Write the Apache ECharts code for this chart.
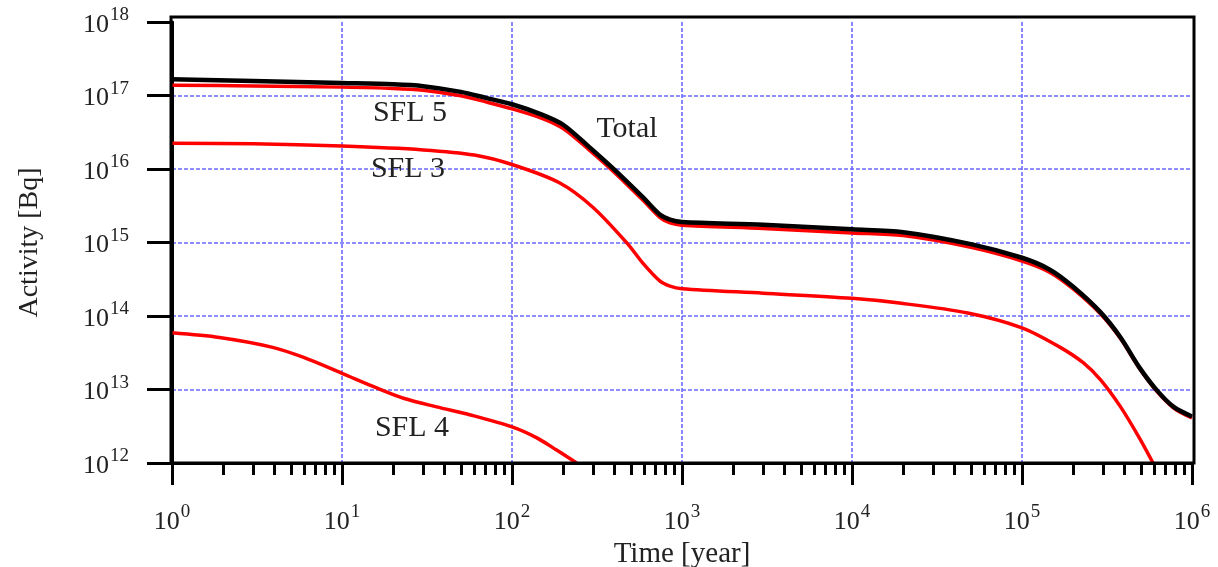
<!DOCTYPE html>
<html>
<head>
<meta charset="utf-8">
<script src="https://cdn.jsdelivr.net/npm/echarts@6/dist/echarts.min.js"></script>
<style>
  html, body { margin: 0; padding: 0; background: #fff; }
  #chart { width: 1218px; height: 567px; }
</style>
</head>
<body>
<div id="chart"></div>
<script>
// time [year] and activity [Bq]
var totalTime = [1, 3, 10, 20, 30, 50, 70, 100, 150, 200, 284, 400, 590, 740, 850, 1000, 3000, 1e4, 2e4, 5e4, 1e5, 1.45e5, 2e5, 2.9e5, 3.8e5, 4.9e5, 6.2e5, 7.8e5, 1e6]
var totalAct = [1.66e17, 1.58e17, 1.48e17, 1.42e17, 1.34e17, 1.12e17, 9.3e16, 7.6e16, 5.5e16, 4.0e16, 2.0e16, 9.8e15, 4.1e15, 2.4e15, 2.05e15, 1.9e15, 1.74e15, 1.51e15, 1.38e15, 9.5e14, 6.2e14, 4.3e14, 2.5e14, 1.12e14, 5.1e13, 2.0e13, 9.8e12, 5.8e12, 4.3e12]

var sfl5Time = totalTime
var sfl5Act = [1.38e17, 1.35e17, 1.3e17, 1.25e17, 1.18e17, 9.9e16, 8.2e16, 6.6e16, 4.9e16, 3.55e16, 1.82e16, 9.0e15, 3.75e15, 2.2e15, 1.85e15, 1.72e15, 1.55e15, 1.35e15, 1.24e15, 8.6e14, 5.6e14, 3.95e14, 2.33e14, 1.06e14, 4.9e13, 1.95e13, 9.5e12, 5.6e12, 4.1e12]

var sfl3Time = [1, 3, 10, 30, 60, 100, 190, 300, 475, 590, 740, 850, 1000, 3000, 1e4, 1.9e4, 4.8e4, 1e5, 1.66e5, 2.3e5, 2.9e5, 3.8e5, 4.9e5, 5.9e5]
var sfl3Act = [2.24e16, 2.2e16, 2.05e16, 1.82e16, 1.55e16, 1.15e16, 6.5e15, 3.0e15, 9.8e14, 5.2e14, 3.0e14, 2.55e14, 2.35e14, 2.04e14, 1.74e14, 1.5e14, 1.1e14, 6.9e13, 3.8e13, 2.3e13, 1.35e13, 5.8e12, 2.2e12, 1e12]

var sfl4Time = [1, 1.9, 3.8, 5.9, 10, 16, 23, 36, 57, 100, 140, 183, 240]
var sfl4Act = [5.9e13, 5.1e13, 3.8e13, 2.75e13, 1.66e13, 1.05e13, 7.6e12, 5.8e12, 4.5e12, 3.1e12, 2.2e12, 1.5e12, 1e12]

var curveNames = ['SFL 5', 'Total', 'SFL 3', 'SFL 4']
// minor ticks of the time axis: 2..9 times each decade
var minorMult = [2, 3, 4, 5, 6, 7, 8, 9]
var decades = [0, 1, 2, 3, 4, 5]

var SERIF = '"Liberation Serif", "Times New Roman", serif'

function pairs(xs, ys) {
  return xs.map(function (x, i) { return [x, ys[i]] })
}

var minorTicks = []
decades.forEach(function (d) {
  minorMult.forEach(function (m) { minorTicks.push(d + Math.log10(m)) })
})

function powLabel(v) {
  var e = Math.round(Math.log10(v))
  return '{b|10}{s|' + e + '}'
}

var labelRich = {
  b: { fontFamily: SERIF, fontSize: 26, lineHeight: 32, verticalAlign: 'bottom', color: '#222' },
  s: { fontFamily: SERIF, fontSize: 19, lineHeight: 19, verticalAlign: 'top', color: '#222', padding: [0, 0, 0, 1] }
}

var gridLine = { show: true, showMinLine: false, showMaxLine: false, lineStyle: { color: '#6a6aff', width: 1.6, type: [4, 2] } }

var lineBase = { type: 'line', smooth: 0.3, showSymbol: false }

var chart = echarts.init(document.getElementById('chart'))

chart.setOption({
  animation: false,
  grid: { left: 172, right: 26, top: 22, bottom: 104, outerBoundsMode: 'none' },
  xAxis: [{
    type: 'log',
    logBase: 10,
    min: 1,
    max: 1e6,
    name: 'Time [year]',
    nameLocation: 'middle',
    nameGap: 67,
    nameTextStyle: { fontFamily: SERIF, fontSize: 29, color: '#222' },
    axisLine: { lineStyle: { color: '#000', width: 3 } },
    axisTick: { length: 22, lineStyle: { color: '#000', width: 3 } },
    axisLabel: { margin: 40, formatter: powLabel, rich: labelRich },
    splitLine: gridLine
  }, {
    // only carries the minor ticks
    type: 'value',
    min: 0,
    max: 6,
    position: 'bottom',
    axisLine: { show: false },
    axisLabel: { show: false },
    splitLine: { show: false },
    axisTick: { customValues: minorTicks, length: 12, lineStyle: { color: '#000', width: 3 } }
  }],
  yAxis: {
    type: 'log',
    logBase: 10,
    min: 1e12,
    max: 1e18,
    name: 'Activity [Bq]',
    nameLocation: 'middle',
    nameGap: 128,
    nameTextStyle: { fontFamily: SERIF, fontSize: 28, color: '#222' },
    axisLine: { lineStyle: { color: '#000', width: 3 } },
    axisTick: { length: 25, lineStyle: { color: '#000', width: 3 } },
    axisLabel: { margin: 43, formatter: powLabel, rich: labelRich },
    splitLine: gridLine
  },
  graphic: [
    { type: 'rect', z: 100, silent: true, shape: { x: 171, y: 17, width: 1023, height: 446 },
      style: { fill: 'none', stroke: '#000', lineWidth: 3 } },
    { type: 'text', z: 100, x: 410, y: 113, style: { text: curveNames[0], font: '30px ' + SERIF, fill: '#222', align: 'center', verticalAlign: 'middle' } },
    { type: 'text', z: 100, x: 627, y: 129, style: { text: curveNames[1], font: '30px ' + SERIF, fill: '#222', align: 'center', verticalAlign: 'middle' } },
    { type: 'text', z: 100, x: 408, y: 169, style: { text: curveNames[2], font: '30px ' + SERIF, fill: '#222', align: 'center', verticalAlign: 'middle' } },
    { type: 'text', z: 100, x: 412, y: 428, style: { text: curveNames[3], font: '30px ' + SERIF, fill: '#222', align: 'center', verticalAlign: 'middle' } }
  ],
  series: [
    Object.assign({}, lineBase, { name: curveNames[2], lineStyle: { color: '#ff0000', width: 3.5 }, data: pairs(sfl3Time, sfl3Act) }),
    Object.assign({}, lineBase, { name: curveNames[3], lineStyle: { color: '#ff0000', width: 3.5 }, data: pairs(sfl4Time, sfl4Act) }),
    Object.assign({}, lineBase, { name: curveNames[0], lineStyle: { color: '#ff0000', width: 3.5 }, data: pairs(sfl5Time, sfl5Act) }),
    Object.assign({}, lineBase, { name: curveNames[1], lineStyle: { color: '#000', width: 4.5 }, data: pairs(totalTime, totalAct) })
  ]
})
</script>
</body>
</html>
